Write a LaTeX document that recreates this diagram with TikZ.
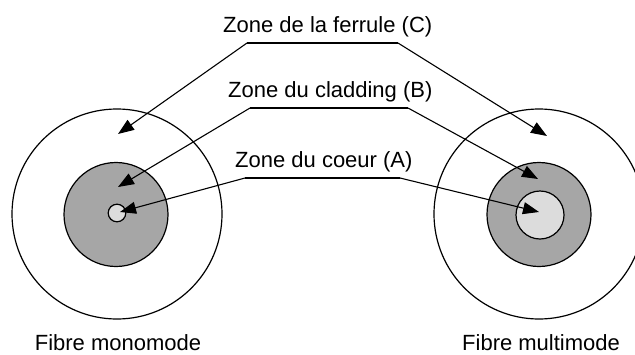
\documentclass[tikz,border=0pt]{standalone}
\usepackage{fontspec}
\setmainfont{Liberation Sans}
\usetikzlibrary{arrows.meta}
\definecolor{cladgray}{HTML}{A6A6A6}
\definecolor{coregray}{HTML}{DCDCDC}
\begin{document}
\begin{tikzpicture}[x=1pt,y=-1pt,
  ring/.style={draw=black,line width=1.2pt},
  lbl/.style={inner sep=0pt,font=\fontsize{22}{26}\selectfont},
  pointer/.style={draw=black,line width=1.1pt,-{Triangle[length=16pt,width=12pt]}}]
\useasboundingbox (0,0) rectangle (635,354);
\begin{scope}
\clip (0,0) rectangle (635,354);
% single-mode fibre
\draw[ring,fill=white] (117,214) circle[radius=105];
\draw[ring,fill=cladgray] (116,214.5) circle[radius=52];
\draw[ring,fill=coregray] (117,213) circle[radius=8.8];
% multimode fibre
\draw[ring,fill=white] (539,214) circle[radius=105];
\draw[ring,fill=cladgray] (539,214.5) circle[radius=52];
\draw[ring,fill=coregray] (540,215) circle[radius=24];
\end{scope}
% labels
\node[lbl,anchor=base west] (ferrule) at (223,32) {Zone de la ferrule (C)};
\node[lbl,anchor=base west] (cladding) at (228,97) {Zone du cladding (B)};
\node[lbl,anchor=base west] (coeur) at (235,167) {Zone du coeur (A)};
\node[lbl,anchor=base] (mono) at (118,350) {Fibre monomode};
\node[lbl,anchor=base west] (multi) at (462,350) {Fibre multimode};
% leader corners
\coordinate (cL) at (247,43);  \coordinate (cR) at (398,43);
\coordinate (bL) at (250,108); \coordinate (bR) at (408,108);
\coordinate (aL) at (245,178); \coordinate (aR) at (400,178);
% arrow targets
\coordinate (cLt) at (118,134); \coordinate (cRt) at (547,136);
\coordinate (bLt) at (118,187); \coordinate (bRt) at (538,179);
\coordinate (aLt) at (120,212); \coordinate (aRt) at (539,212);
% leaders
\draw[line width=1.1pt] (cL) -- (cR);
\draw[pointer] (cL) -- (cLt);
\draw[pointer] (cR) -- (cRt);
\draw[line width=1.1pt] (bL) -- (bR);
\draw[pointer] (bL) -- (bLt);
\draw[pointer] (bR) -- (bRt);
\draw[line width=1.1pt] (aL) -- (aR);
\draw[pointer] (aL) -- (aLt);
\draw[pointer] (aR) -- (aRt);
\end{tikzpicture}
\end{document}
